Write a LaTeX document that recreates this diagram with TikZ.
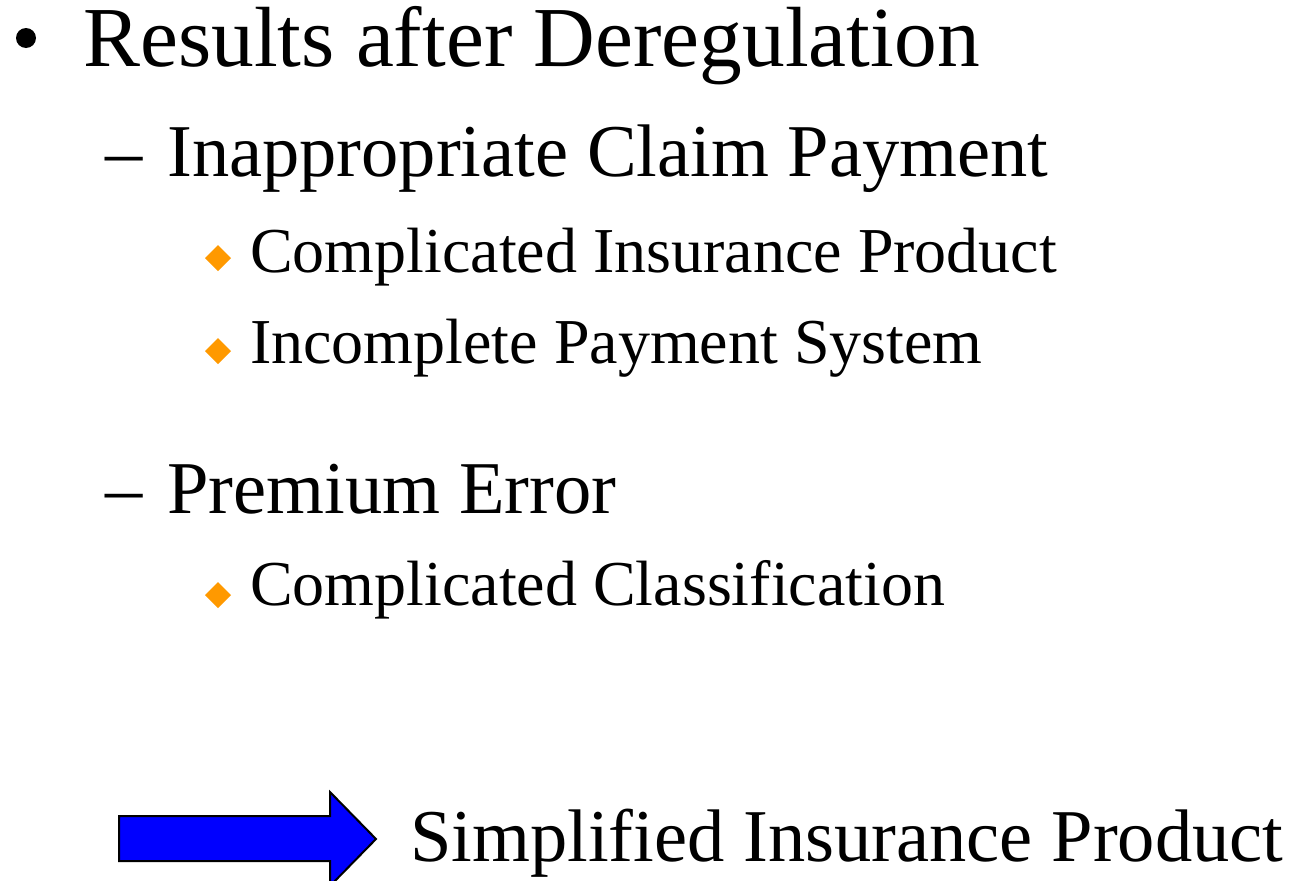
\documentclass[tikz,border=0pt]{standalone}
\usepackage{fontspec}
\setmainfont{Liberation Serif}
\begin{document}
\begin{tikzpicture}[x=1pt,y=-1pt,
  lvlone/.style={anchor=base west,inner sep=0pt,font=\fontsize{85.4}{85.4}\selectfont},
  lvltwo/.style={anchor=base west,inner sep=0pt,font=\fontsize{74.5}{74.5}\selectfont},
  lvlthree/.style={anchor=base west,inner sep=0pt,font=\fontsize{64}{64}\selectfont},
  dot/.style={fill=black},
  gem/.style={fill=gemorange},
  bigarrow/.style={fill=blue,draw=black,line width=2pt,line join=miter}]
\definecolor{gemorange}{RGB}{255,153,0}
\useasboundingbox (0,0) rectangle (1291,881);

% first level
\fill[dot] (26,38) circle (10);
\node[lvlone] (title) at (83,66) {Results after Deregulation};

% second and third levels
\node[lvltwo] (dashA) at (105,176) {–};
\node[lvltwo] (claim) at (167,176) {Inappropriate Claim Payment};

\fill[gem] (218,245) -- (231,258) -- (218,271) -- (205,258) -- cycle;
\node[lvlthree] (prodA) at (250,272) {Complicated Insurance Product};

\fill[gem] (218,338) -- (231,351) -- (218,364) -- (205,351) -- cycle;
\node[lvlthree] (paysys) at (250,363) {Incomplete Payment System};

\node[lvltwo] (dashB) at (105,513) {–};
\node[lvltwo] (premium) at (167,513) {Premium Error};

\fill[gem] (218,582) -- (231,595) -- (218,608) -- (205,595) -- cycle;
\node[lvlthree] (classif) at (250,605) {Complicated Classification};

% conclusion
\draw[bigarrow] (119,816) -- (330,816) -- (330,792) -- (376,839)
  -- (330,886) -- (330,861) -- (119,861) -- cycle;
\node[lvltwo] (simple) at (410,861) {Simplified Insurance Product};
\end{tikzpicture}
\end{document}
